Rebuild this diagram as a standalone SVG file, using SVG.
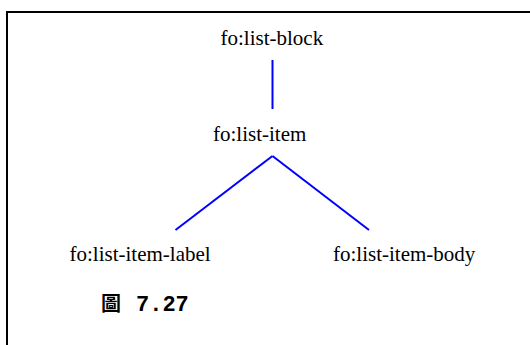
<svg xmlns="http://www.w3.org/2000/svg" width="530" height="345" viewBox="0 0 530 345">
<style>
.lbl{font-family:'Liberation Serif','Times New Roman',serif;font-size:21px;fill:#000}
.edge{stroke:#0000ff;stroke-width:2;fill:none}
.cap{font-family:'Liberation Mono','Courier New',monospace;font-weight:bold;font-size:22px;fill:#000}
.cjk{font-family:'Noto Sans CJK TC','Noto Sans CJK SC',sans-serif;font-weight:bold;font-size:20px;fill:#000}
</style>
<rect x="0" y="0" width="530" height="345" fill="#fff"/>
<rect x="7" y="12" width="600" height="400" fill="none" stroke="#000" stroke-width="2"/>
<g id="connectors">
<line class="edge" x1="272.5" y1="60" x2="272.5" y2="109"/>
<line class="edge" x1="272.5" y1="156" x2="175.5" y2="230"/>
<line class="edge" x1="272.5" y1="156" x2="369" y2="230"/>
</g>
<g id="node-list-block"><text class="lbl" x="220.5" y="45">fo:list-block</text></g>
<g id="node-list-item"><text class="lbl" x="213" y="141">fo:list-item</text></g>
<g id="node-list-item-label"><text class="lbl" x="69.5" y="261">fo:list-item-label</text></g>
<g id="node-list-item-body"><text class="lbl" x="333" y="261">fo:list-item-body</text></g>
<g id="caption">
<text class="cjk" x="101" y="311">圖</text>
<text class="cap" x="136" y="311">7.27</text>
</g>
</svg>
